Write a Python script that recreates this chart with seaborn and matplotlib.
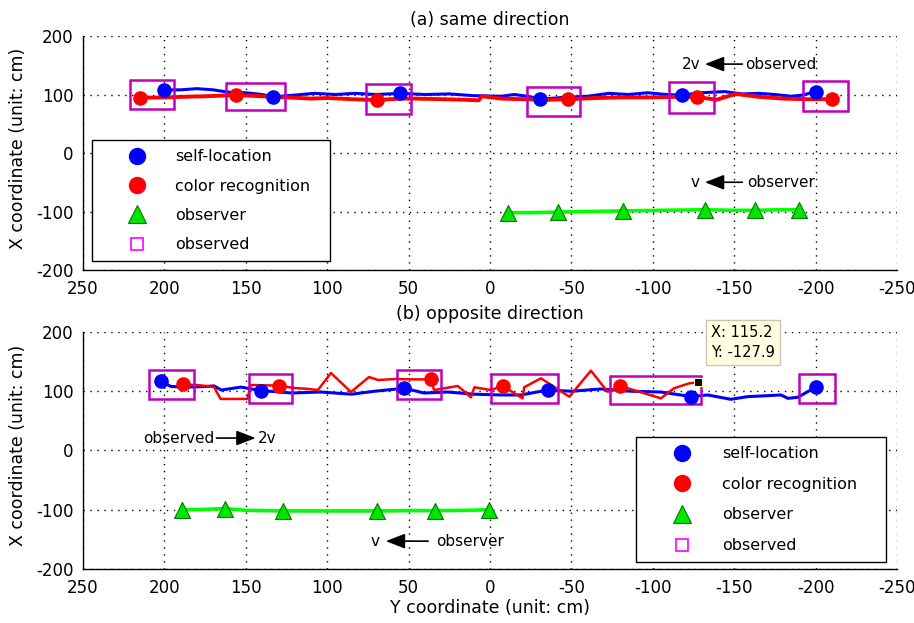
import matplotlib
matplotlib.use("Agg")
import matplotlib.pyplot as plt
from matplotlib.lines import Line2D
from matplotlib.patches import Rectangle
import seaborn as sns

# ---------------- panel (a) same direction ----------------
a_self_line_x = [200, 190, 180, 170, 161, 150, 140, 133, 120, 108, 95, 83, 70, 55, 40, 25, 10, -7, -15, -25,
                 -31, -45, -60, -73, -85, -97, -108, -118, -130, -144, -155, -165, -175, -185, -192, -200]
a_self_line_y = [107.7, 108, 110, 108, 104, 103, 100, 96, 99, 102, 100, 102, 100, 102, 100, 101, 98, 97, 100, 96,
                 92, 95, 97, 102, 100, 103, 100, 99, 103, 105, 101, 102, 100, 97, 99, 105]
a_color_line_x = [215, 200, 190, 175, 156, 140, 124, 110, 100, 85, 69.6, 55, 46, 30, 15, 7, 5, -7, -20, -35,
                  -48, -65, -80, -98, -115, -127, -139, -151, -165, -180, -195, -210]
a_color_line_y = [94.5, 95, 96, 97, 99, 97, 95, 93, 94, 92, 90.6, 93, 93, 92, 91, 90, 97, 93, 92, 91,
                  92, 94, 95, 95, 96, 96, 91, 101, 96, 93, 92, 92]
a_self_pts_x = [200, 133, 55, -31, -118, -200]
a_self_pts_y = [107.7, 96, 102, 92, 99, 105]
a_color_pts_x = [215, 156, 69.6, -48, -127, -210]
a_color_pts_y = [94.5, 99, 90.6, 92, 96, 92]
a_obs_line_x = [-11, -25, -42, -60, -82, -105, -132, -150, -163, -178, -190]
a_obs_line_y = [-102, -102, -101, -100, -99, -98, -97, -98, -98, -97, -97]
a_obs_pts_x = [-11, -42, -82, -132, -163, -190]
a_obs_pts_y = [-102, -101, -99, -97, -98, -97]
a_box_left = [221, 162, 76, -23, -110, -192]
a_box_right = [194, 126, 48.5, -55, -137.5, -220]
a_box_bottom = [75.7, 73.5, 66.7, 63.8, 68.9, 71.8]
a_box_top = [124.8, 119, 118, 113, 120.9, 123]

# ---------------- panel (b) opposite direction ----------------
b_self_line_x = [202, 196, 185.5, 175, 169.5, 165, 153, 140.7, 130, 122, 104, 85, 71, 52.6, 40.5, 26, 10, -6.8,
                 -19, -35.4, -50, -68, -86.6, -105, -123.5, -133.7, -148, -158, -178.7, -183, -189, -200]
b_self_line_y = [117.3, 108, 107, 108, 109, 102, 107, 101, 99, 97, 98.7, 95, 100, 105, 97, 98.7, 95, 93.7,
                 93.7, 102, 100, 103.8, 100, 98.7, 91, 93.7, 86.4, 90.8, 93.7, 88, 89.8, 106.7]
b_color_line_x = [188.8, 178, 169.5, 165.5, 157, 149, 147, 138, 129.4, 120.4, 112, 105.7, 97.7, 85.4, 74.3, 68.8,
                  57.7, 47, 36.2, 34.4, 19.8, 11.7, 9.6, -0.6, -7.8, -20, -21, -31.3, -48.7, -62, -72.3, -80,
                  -93, -105, -113, -122.4, -127.9]
b_color_line_y = [111.7, 110, 107, 87, 87, 87, 110.5, 110, 109.4, 105.5, 104, 102, 130.8, 98.7, 124, 119,
                  120.7, 120, 120, 102, 108.9, 89.8, 106.7, 102, 109, 88, 106.7, 121.8, 90.8, 134.7, 99, 109,
                  98, 88, 105, 113.4, 115.2]
b_self_pts_x = [202, 140.7, 52.6, -35.4, -123.5, -200]
b_self_pts_y = [117.3, 101, 105, 102, 91, 106.7]
b_color_pts_x = [188.8, 129.4, 36.2, -7.8, -80]
b_color_pts_y = [111.7, 109.4, 120, 109, 109]
b_obs_line_x = [189, 176, 163, 150, 127, 100, 69.4, 50, 33.8, 15, 0.4]
b_obs_line_y = [-100, -99.5, -98, -101, -102, -102, -102, -101.5, -101.5, -101, -100]
b_obs_pts_x = [189, 163, 127, 69.4, 33.8, 0.4]
b_obs_pts_y = [-100, -98, -102, -102, -101.5, -100]
b_box_left = [209.3, 148.2, 57.3, -0.6, -73.9, -190]
b_box_right = [181.6, 121.6, 30.1, -42, -129.6, -212]
b_box_bottom = [86.9, 79.7, 86.9, 79.7, 78, 79.7]
b_box_top = [135.9, 129, 135.9, 129, 125.7, 129]
cursor_x = [-127.9]
cursor_y = [115.2]

legend_labels = ["self-location", "color recognition", "observer", "observed"]
x_ticks = [250, 200, 150, 100, 50, 0, -50, -100, -150, -200, -250]
y_ticks = [-200, -100, 0, 100, 200]

# ---------------- style ----------------
sns.set_style("white")
plt.rcParams["font.family"] = ["DejaVu Sans"]
plt.rcParams["axes.unicode_minus"] = False
plt.rcParams["text.color"] = "black"
plt.rcParams["axes.labelcolor"] = "black"

BLUE, RED = "#0000FF", "#FF0000"
GREEN, GREEN_EDGE = "#00E600", "#007A00"
BOXC, OBSM = "#BF00BF", "#FF00FF"

fig = plt.figure(figsize=(9.14, 6.23), dpi=100)
ax1 = fig.add_axes([0.0908, 0.5666, 0.8906, 0.3756])
ax2 = fig.add_axes([0.0908, 0.0867, 0.8906, 0.3804])


def draw_panel(ax, sl_x, sl_y, cl_x, cl_y, sp_x, sp_y, cp_x, cp_y, ol_x, ol_y, op_x, op_y,
               bl, br, bb, bt, red_lw):
    sns.lineplot(x=ol_x, y=ol_y, ax=ax, sort=False, estimator=None, color="#00FF00", linewidth=2.6, zorder=2)
    sns.lineplot(x=sl_x, y=sl_y, ax=ax, sort=False, estimator=None, color=BLUE, linewidth=2.2, zorder=2)
    sns.lineplot(x=cl_x, y=cl_y, ax=ax, sort=False, estimator=None, color=RED, linewidth=red_lw, zorder=2.1)
    for l, r, b, t in zip(bl, br, bb, bt):
        ax.add_patch(Rectangle((l, b), r - l, t - b, fill=False, edgecolor=BOXC, linewidth=1.8, zorder=3))
    sns.scatterplot(x=op_x, y=op_y, ax=ax, marker="^", s=11.5 ** 2, color=GREEN, edgecolor=GREEN_EDGE,
                    linewidth=0.8, zorder=4, legend=False)
    sns.scatterplot(x=sp_x, y=sp_y, ax=ax, marker="o", s=10.5 ** 2, color=BLUE, edgecolor=BLUE,
                    linewidth=0, zorder=4, legend=False)
    sns.scatterplot(x=cp_x, y=cp_y, ax=ax, marker="o", s=10.5 ** 2, color=RED, edgecolor=RED,
                    linewidth=0, zorder=4, legend=False)

    ax.set_xlim(250, -250)
    ax.set_ylim(-200, 200)
    ax.set_xticks(x_ticks)
    ax.set_yticks(y_ticks)
    ax.grid(True, color="black", linestyle=(0, (1, 4)), linewidth=1.0)
    ax.set_axisbelow(True)
    for s in ["top", "right"]:
        ax.spines[s].set_visible(False)
    for s in ["left", "bottom"]:
        ax.spines[s].set_color("black")
        ax.spines[s].set_linewidth(1.0)
    ax.tick_params(direction="in", length=6, width=1, colors="black", labelsize=12, pad=7)
    ax.set_ylabel("X coordinate (unit: cm)", fontsize=12.5)
    ax.yaxis.set_label_coords(-0.069, 0.52)


draw_panel(ax1, a_self_line_x, a_self_line_y, a_color_line_x, a_color_line_y,
           a_self_pts_x, a_self_pts_y, a_color_pts_x, a_color_pts_y,
           a_obs_line_x, a_obs_line_y, a_obs_pts_x, a_obs_pts_y,
           a_box_left, a_box_right, a_box_bottom, a_box_top, 2.8)
draw_panel(ax2, b_self_line_x, b_self_line_y, b_color_line_x, b_color_line_y,
           b_self_pts_x, b_self_pts_y, b_color_pts_x, b_color_pts_y,
           b_obs_line_x, b_obs_line_y, b_obs_pts_x, b_obs_pts_y,
           b_box_left, b_box_right, b_box_bottom, b_box_top, 1.8)

ax1.set_title("(a) same direction", fontsize=12.5, pad=8)
ax2.set_title("(b) opposite direction", fontsize=12.5, pad=9)
ax2.set_xlabel("Y coordinate (unit: cm)", fontsize=12.5)
ax2.xaxis.set_label_coords(0.5, -0.125)

# data cursor
sns.scatterplot(x=cursor_x, y=cursor_y, ax=ax2, marker="s", s=36, color="black", edgecolor="#FFFFD0",
                linewidth=0.8, zorder=6, legend=False)
ax2.text(-135.7, 212, "X: 115.2\nY: -127.9", fontsize=10.5, ha="left", va="top", linespacing=1.45,
         clip_on=False, zorder=7,
         bbox=dict(boxstyle="square,pad=0.35", facecolor="#FFFFE1", edgecolor="#C8C8B4", linewidth=1))


# annotations
def arrow_note(ax, left_text, right_text, x_text_left, x_tail, x_head, x_text_right, y):
    ax.text(x_text_left, y, left_text, ha="right", va="center", fontsize=11, zorder=6)
    ax.text(x_text_right, y, right_text, ha="left", va="center", fontsize=11, zorder=6)
    ax.annotate("", xy=(x_head, y), xytext=(x_tail, y),
                arrowprops=dict(arrowstyle="-|>,head_length=0.9,head_width=0.35", color="black",
                                lw=1.2, shrinkA=0, shrinkB=0, mutation_scale=13), zorder=6)


arrow_note(ax1, "2v", "observed", -129, -155, -132, -157, 152)
arrow_note(ax1, "v", "observer", -129, -155, -132, -158, -50)
arrow_note(ax2, "observed", "2v", 169.5, 168, 144, 142.5, 21)
arrow_note(ax2, "v", "observer", 68, 38, 64, 33, -153)


# legends
def handles():
    return [
        Line2D([], [], linestyle="none", marker="o", markersize=11.5, color=BLUE, markeredgecolor=BLUE),
        Line2D([], [], linestyle="none", marker="o", markersize=11.5, color=RED, markeredgecolor=RED),
        Line2D([], [], linestyle="none", marker="^", markersize=13, color=GREEN, markeredgecolor=GREEN_EDGE,
               markeredgewidth=0.8),
        Line2D([], [], linestyle="none", marker="s", markersize=8.5, markerfacecolor="none",
               markeredgecolor=OBSM, markeredgewidth=1.2),
    ]


for ax, anchor, lsp, hl in [(ax1, (0.011, 0.038, 0.292, 0.01), 0.9, 4.5),
                            (ax2, (0.679, 0.03, 0.308, 0.01), 0.98, 4.7)]:
    leg = ax.legend(handles(), legend_labels, loc="lower left", bbox_to_anchor=anchor, mode="expand",
                    borderaxespad=0, fontsize=11.5, frameon=True, fancybox=False, borderpad=0.55,
                    labelspacing=lsp, handlelength=hl, handletextpad=0.15)
    leg.get_frame().set_edgecolor("black")
    leg.get_frame().set_linewidth(1.0)
    leg.get_frame().set_facecolor("white")
    leg.get_frame().set_alpha(1)
    leg.set_zorder(8)

fig.savefig("out.png", dpi=100)
